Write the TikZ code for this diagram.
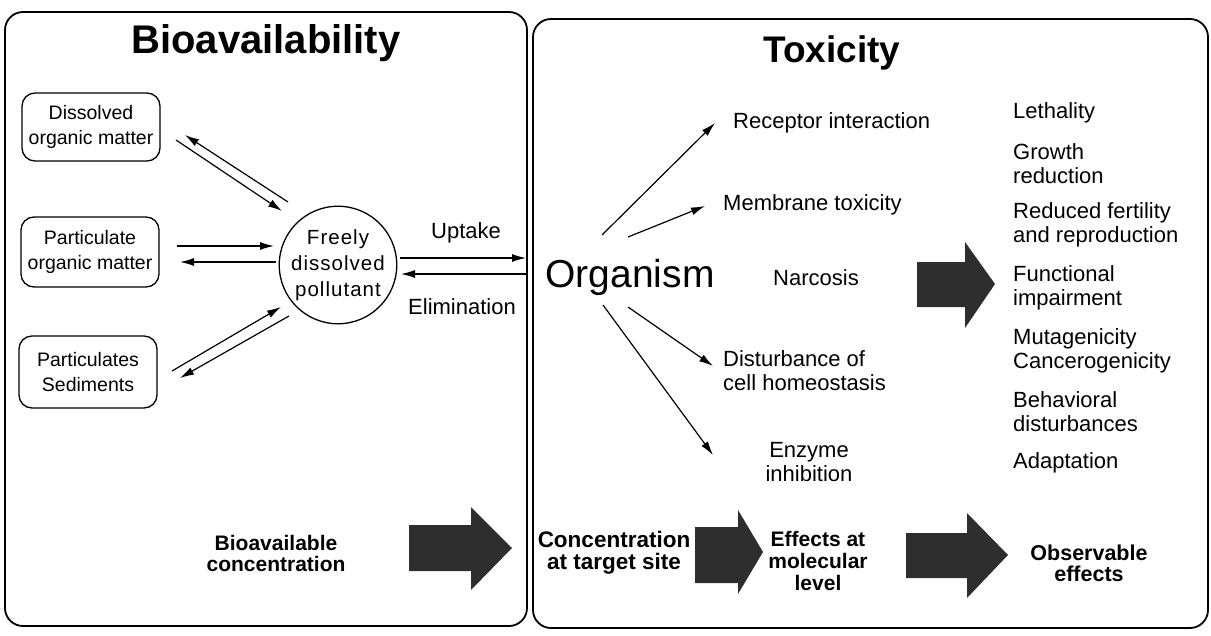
\documentclass[tikz,border=0pt]{standalone}
\usepackage{fontspec}
\setmainfont{Liberation Sans}
\usetikzlibrary{arrows.meta,calc}
\begin{document}
\begin{tikzpicture}[x=1pt,y=-1pt,
  panel/.style={draw, line width=1.8pt, rounded corners=18pt},
  srcbox/.style={draw, line width=1.3pt, rounded corners=13pt, minimum width=138pt, minimum height=68pt, align=center, font=\fontsize{19.5}{25}\selectfont, inner sep=0pt},
  poolnode/.style={draw, circle, line width=1.3pt, minimum size=116pt, inner sep=0pt, align=center, font=\addfontfeature{LetterSpace=5}\fontsize{20.5}{26}\selectfont},
  flow/.style={line width=1.2pt, -{Latex[length=14pt,width=8pt]}},
  lbl/.style={inner sep=0pt, font=\fontsize{22}{24}\selectfont, align=left},
  clbl/.style={inner sep=0pt, font=\fontsize{22}{24}\selectfont, align=center},
  btxt/.style={inner sep=0pt, font=\bfseries\fontsize{21}{21}\selectfont, align=center},
  bigarrow/.style={fill=black!82},
]
\useasboundingbox (0,0) rectangle (1211,635);
% panels
\draw[panel] (5,12) rectangle (527,626);
\draw[panel] (533,19) rectangle (1208,628);
% titles
\node[inner sep=0pt, anchor=base, font=\bfseries\fontsize{40}{40}\selectfont] (tbio) at (266,53) {Bioavailability};
\node[inner sep=0pt, anchor=base, font=\bfseries\fontsize{37}{37}\selectfont] (ttox) at (832,62) {Toxicity};
% left sources
\node[srcbox] (dom) at (91,127) {Dissolved\\organic matter};
\node[srcbox, minimum height=70pt] (pom) at (90,252) {Particulate\\organic matter};
\node[srcbox, minimum height=72pt] (sed) at (88,372) {Particulates\\Sediments};
\node[poolnode] (pool) at (338,265) {Freely\\dissolved\\pollutant};
% exchange arrows
\coordinate (d1s) at (176,140); \coordinate (d1e) at (282,211);
\coordinate (d2s) at (288,202); \coordinate (d2e) at (185,135);
\coordinate (p1s) at (177,246); \coordinate (p1e) at (274,246);
\coordinate (p2s) at (276,262); \coordinate (p2e) at (180,262);
\coordinate (s1s) at (172,371); \coordinate (s1e) at (281,307);
\coordinate (s2s) at (289,316); \coordinate (s2e) at (180,378);
\draw[flow] (d1s) -- (d1e);
\draw[flow] (d2s) -- (d2e);
\draw[flow] (p1s) -- (p1e);
\draw[flow] (p2s) -- (p2e);
\draw[flow] (s1s) -- (s1e);
\draw[flow] (s2s) -- (s2e);
% uptake / elimination
\coordinate (us) at (400,258); \coordinate (ue) at (526,258);
\coordinate (es) at (526,274); \coordinate (ee) at (401,274);
\draw[flow] (us) -- (ue);
\draw[flow] (es) -- (ee);
\node[clbl] (uptake) at (466,233) {Uptake};
\node[clbl] (elim) at (462,307) {Elimination};
% organism
\node[inner sep=0pt, font=\fontsize{39}{39}\selectfont] (org) at (630,277) {Organism};
\node[lbl, anchor=west] (rec) at (733,123) {Receptor interaction};
\node[lbl, anchor=west] (mem) at (723,205) {Membrane toxicity};
\node[clbl] (nar) at (816,278) {Narcosis};
\node[lbl, anchor=west] (dist) at (723,371) {Disturbance of\\cell homeostasis};
\node[clbl] (enz) at (809,462) {Enzyme\\inhibition};
\coordinate (o1s) at (602,235); \coordinate (o1e) at (715,123);
\coordinate (o2s) at (628,237); \coordinate (o2e) at (705,206);
\coordinate (o3s) at (628,307); \coordinate (o3e) at (713,366);
\coordinate (o4s) at (603,305); \coordinate (o4e) at (713,455);
\draw[flow] (o1s) -- (o1e);
\draw[flow] (o2s) -- (o2e);
\draw[flow] (o3s) -- (o3e);
\draw[flow] (o4s) -- (o4e);
% big middle arrow
\fill[bigarrow] (917,262) -- (965,262) -- (965,242) -- (995,284) -- (965,328) -- (965,307) -- (917,307) -- cycle;
% effects list
\node[lbl, anchor=west] (e1) at (1013,113) {Lethality};
\node[lbl, anchor=west] (e2) at (1013,164) {Growth\\reduction};
\node[lbl, anchor=west] (e3) at (1013,225) {Reduced fertility\\and reproduction};
\node[lbl, anchor=west] (e4) at (1013,288) {Functional\\impairment};
\node[lbl, anchor=west] (e5) at (1013,351) {Mutagenicity\\Cancerogenicity};
\node[lbl, anchor=west] (e6) at (1013,412) {Behavioral\\disturbances};
\node[lbl, anchor=west] (e7) at (1013,463) {Adaptation};
% bottom chain
\node[btxt] (bconc) at (276,553) {Bioavailable\\concentration};
\fill[bigarrow] (409,525) -- (471,525) -- (471,507) -- (512,548) -- (471,590) -- (471,571) -- (409,571) -- cycle;
\node[btxt, font=\bfseries\fontsize{22.5}{22}\selectfont] (tconc) at (614,553) {Concentration\\at target site};
\fill[bigarrow] (695,527) -- (738,527) -- (738,510) -- (763,552) -- (738,594) -- (738,583) -- (695,583) -- cycle;
\node[btxt, font=\bfseries\fontsize{21}{22}\selectfont] (mol) at (818,561) {Effects at\\molecular\\level};
\fill[bigarrow] (906,533) -- (967,533) -- (967,513) -- (1008,555) -- (967,598) -- (967,578) -- (906,578) -- cycle;
\node[btxt, font=\bfseries\fontsize{21.5}{21}\selectfont] (obs) at (1089,563) {Observable\\effects};
\end{tikzpicture}
\end{document}
